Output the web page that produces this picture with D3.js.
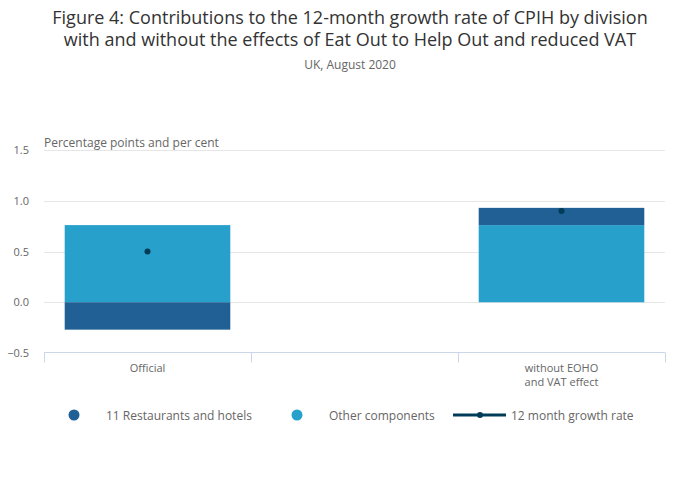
<!DOCTYPE html>
<html><head><meta charset="utf-8">
<script src="https://cdn.jsdelivr.net/npm/d3@7"></script>
<style>body{margin:0;background:#fff;font-family:"Open Sans",sans-serif;}</style>
</head><body><svg id="c" width="700" height="502"></svg>
<script>
const categories = ["Official", "", "without EOHO\nand VAT effect"];
const restaurants = [-0.27, null, 0.17];
const other = [0.76, null, 0.76];
const growth = [0.5, null, 0.9];
const yTicks = [-0.5, 0, 0.5, 1.0, 1.5];
const seriesNames = ["11 Restaurants and hotels", "Other components", "12 month growth rate"];
const colors = {rest:"#206095", other:"#27a0cc", line:"#003c57"};

const svg = d3.select("#c");
const m = {l:44, r:665, t:150, b:353};
const x = d3.scaleBand().domain(d3.range(categories.length)).range([m.l, m.r]).paddingInner(0).paddingOuter(0);
const y = d3.scaleLinear().domain([-0.5, 1.5]).range([m.b, m.t]);

svg.append("text").attr("x",350).attr("y",24).attr("text-anchor","middle").attr("fill","#333").attr("font-size",18).text("Figure 4: Contributions to the 12-month growth rate of CPIH by division");
svg.append("text").attr("x",350).attr("y",46).attr("text-anchor","middle").attr("fill","#333").attr("font-size",18).text("with and without the effects of Eat Out to Help Out and reduced VAT");
svg.append("text").attr("x",350).attr("y",69).attr("text-anchor","middle").attr("fill","#666").attr("font-size",12).text("UK, August 2020");

// grid
svg.append("g").selectAll("line").data(yTicks.filter(d=>d>-0.5)).join("line")
  .attr("x1",m.l).attr("x2",m.r).attr("y1",d=>Math.round(y(d))+0.5).attr("y2",d=>Math.round(y(d))+0.5)
  .attr("stroke","#e6e6e6");
// y axis labels
const ya = svg.append("g").attr("transform",`translate(${m.l-15},0)`).call(d3.axisLeft(y).tickValues(yTicks).tickFormat(d3.format(".1f")).tickSize(0));
ya.select(".domain").remove();
ya.selectAll("text").attr("fill","#666").attr("font-size",11).attr("font-family","Open Sans").attr("dy","0.32em").attr("x",0);
svg.append("text").attr("x",m.l).attr("y",147).attr("fill","#666").attr("font-size",12).text("Percentage points and per cent");

// bars
const bw = x.bandwidth()*0.8;
const g = svg.append("g");
categories.forEach((c,i)=>{
  if(restaurants[i]==null) return;
  const cx = x(i)+x.bandwidth()/2;
  const segs = [];
  let pos=0, neg=0;
  [[other[i],colors.other],[restaurants[i],colors.rest]].forEach(([v,col])=>{
    let y0,y1;
    if(v>=0){y0=pos;y1=pos+v;pos=y1;} else {y0=neg;y1=neg+v;neg=y1;}
    segs.push({y0,y1,col});
  });
  g.selectAll(null).data(segs).join("rect")
   .attr("x",cx-bw/2).attr("width",bw)
   .attr("y",d=>y(Math.max(d.y0,d.y1))).attr("height",d=>Math.abs(y(d.y0)-y(d.y1)))
   .attr("fill",d=>d.col);
  g.append("circle").attr("cx",cx).attr("cy",y(growth[i])).attr("r",3).attr("fill",colors.line);
});

// x axis
const xa = svg.append("g").attr("transform",`translate(0,${m.b-0.5})`);
xa.append("line").attr("x1",m.l).attr("x2",m.r).attr("stroke","#ccd6eb");
const tickX = d3.range(categories.length+1).map(i=> i<categories.length ? x(i) : m.r);
xa.selectAll(".tk").data(tickX).join("line").attr("x1",d=>Math.round(d)+0.5).attr("x2",d=>Math.round(d)+0.5).attr("y1",0).attr("y2",10).attr("stroke","#ccd6eb");
categories.forEach((c,i)=>{
  const t = svg.append("text").attr("x",x(i)+x.bandwidth()/2).attr("y",372).attr("text-anchor","middle").attr("fill","#666").attr("font-size",11);
  c.split("\n").forEach((ln,k)=>t.append("tspan").attr("x",x(i)+x.bandwidth()/2).attr("dy",k?14:0).text(ln));
});

// legend
const ly = 415;
const lg = svg.append("g").attr("font-size",12).attr("fill","#666");
lg.append("circle").attr("cx",74).attr("cy",ly).attr("r",5.5).attr("fill",colors.rest);
lg.append("text").attr("x",106).attr("y",ly+5).attr("fill","#666").text(seriesNames[0]);
lg.append("circle").attr("cx",297).attr("cy",ly).attr("r",5.5).attr("fill",colors.other);
lg.append("text").attr("x",329).attr("y",ly+5).attr("fill","#666").text(seriesNames[1]);
lg.append("line").attr("x1",453).attr("x2",506).attr("y1",ly).attr("y2",ly).attr("stroke",colors.line).attr("stroke-width",3);
lg.append("circle").attr("cx",480).attr("cy",ly).attr("r",3).attr("fill",colors.line);
lg.append("text").attr("x",511).attr("y",ly+5).attr("fill","#666").text(seriesNames[2]);
</script></body></html>
